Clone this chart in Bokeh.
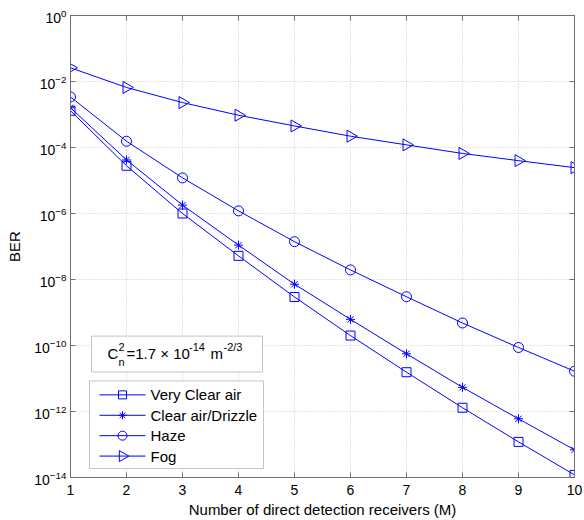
import numpy as np
from bokeh.plotting import figure
from bokeh.models import (FixedTicker, LogAxis, LinearAxis, Label, BoxAnnotation)
from bokeh.embed import file_html
from bokeh.resources import INLINE

# ---------------- data ----------------
M = [1, 2, 3, 4, 5, 6, 7, 8, 9, 10]
very_clear = [1.3e-3, 2.8e-5, 1.0e-6, 5.2e-8, 2.95e-9, 2.0e-10, 1.55e-11, 1.3e-12, 1.2e-13, 1.2e-14]
clear_drizzle = [1.6e-3, 4.2e-5, 1.8e-6, 1.1e-7, 7.2e-9, 6.2e-10, 5.6e-11, 5.4e-12, 6.0e-13, 6.9e-14]
haze = [3.4e-3, 1.55e-4, 1.2e-5, 1.2e-6, 1.4e-7, 1.95e-8, 3.0e-9, 4.8e-10, 8.7e-11, 1.66e-11]
fog = [2.6e-2, 6.6e-3, 2.3e-3, 9.5e-4, 4.5e-4, 2.2e-4, 1.2e-4, 6.6e-5, 4.0e-5, 2.45e-5]
series_names = ["Very Clear air", "Clear air/Drizzle", "Haze", "Fog"]
y_tick_exps = [0, -2, -4, -6, -8, -10, -12, -14]
x_ticks = M
x_label = "Number of direct detection receivers (M)"
y_label = "BER"

FONT = "Liberation Sans"
BLUE = "#0000ff"
AX = "#6f6f6f"

W, H = 584, 520
L, R, T, B = 70, 10, 15, 41
FW, FH = W - L - R, H - T - B

p = figure(width=W, height=H, x_range=(1, 10), y_range=(1e-14, 1),
           y_axis_type="log", output_backend="svg", toolbar_location=None,
           min_border_left=L, min_border_right=R, min_border_top=T, min_border_bottom=B)
p.background_fill_color = "white"
p.border_fill_color = "white"
p.outline_line_color = AX

y_tick_vals = [10.0 ** e for e in y_tick_exps]
yt = FixedTicker(ticks=y_tick_vals)
xt = FixedTicker(ticks=x_ticks)
blank_y = {v: "" for v in y_tick_vals}
blank_x = {v: "" for v in x_ticks}


def style_axis(ax):
    ax.axis_line_color = AX
    ax.major_tick_line_color = AX
    ax.major_tick_in = 5
    ax.major_tick_out = 0
    ax.minor_tick_line_color = None
    ax.major_label_text_font = FONT
    ax.major_label_text_color = "black"
    ax.axis_label_text_font = FONT
    ax.axis_label_text_font_style = "normal"
    ax.axis_label_text_font_size = "15px"
    ax.axis_label_text_color = "black"


# bottom axis
xa = p.xaxis[0]
xa.ticker = xt
style_axis(xa)
xa.major_label_standoff = 7
xa.major_label_text_font_size = "14px"
xa.axis_label = x_label
xa.axis_label_standoff = 3

# left axis (log formatter draws 10 with a raised exponent)
ya = p.yaxis[0]
ya.ticker = yt
style_axis(ya)
ya.major_label_standoff = 4
ya.major_label_text_font_size = "14px"
ya.axis_label = y_label
ya.axis_label_standoff = 8


def quiet(ax, blank):
    style_axis(ax)
    ax.major_label_overrides = blank
    ax.major_label_text_font_size = "2px"
    ax.major_label_text_color = None
    ax.major_label_standoff = 0


ra = LogAxis(ticker=yt)
quiet(ra, blank_y)
p.add_layout(ra, "right")
ta = LinearAxis(ticker=xt)
quiet(ta, blank_x)
p.add_layout(ta, "above")

p.xgrid.ticker = xt
p.ygrid.ticker = yt
for g in (p.xgrid[0], p.ygrid[0]):
    g.grid_line_color = "#c8c8c8"
    g.grid_line_dash = "1 2"
    g.grid_line_width = 1


def px2x(px):
    return 1 + (px - L) / FW * 9


def py2y(py):
    return 10 ** (-(py - T) / FH * 14)


# ---------------- series ----------------
specs = [
    (very_clear, "square", 9, 0.0),
    (clear_drizzle, "asterisk", 9, 0.0),
    (haze, "circle", 10, 0.0),
    (fog, "triangle", 12, -np.pi / 2),
]
for vals, mk, sz, ang in specs:
    p.line(M, vals, line_color=BLUE, line_width=1)
    p.scatter(M, vals, marker=mk, size=sz, angle=ang, line_color=BLUE,
              fill_color=None, line_width=1)


# ---------------- text helper (inside the frame) ----------------
def lab(px, py, text, size, align="left", baseline="middle", style="normal"):
    p.add_layout(Label(x=px2x(px), y=py2y(py), text=text,
                       text_font=FONT, text_font_size=f"{size}px", text_align=align,
                       text_baseline=baseline, text_font_style=style, text_color="black"))


# annotation box
p.add_layout(BoxAnnotation(left=px2x(91), right=px2x(262), top=py2y(337), bottom=py2y(373),
                           fill_color="white", fill_alpha=1.0, line_color="#404040",
                           line_width=1, level="underlay"))
lab(107, 354, "C", 15)
lab(118, 348, "2", 11)
lab(118, 363, "n", 11)
lab(126, 354, "=1.7 \u00d7 10", 15)
lab(188.5, 348, "-14", 11)
lab(210, 354, "m", 15)
lab(223, 348, "-2/3", 11)

# legend (drawn by hand so the Fog triangle points right, as in the reference)
p.add_layout(BoxAnnotation(left=px2x(89), right=px2x(263), top=py2y(382), bottom=py2y(470),
                           fill_color="white", fill_alpha=1.0, line_color="#404040",
                           line_width=1, level="underlay"))
row_py = [396, 416.5, 437, 457.5]
for (vals, mk, sz, ang), name, ry in zip(specs, series_names, row_py):
    p.line([px2x(99), px2x(145)], [py2y(ry), py2y(ry)], line_color=BLUE, line_width=1)
    p.scatter([px2x(122)], [py2y(ry)], marker=mk, size=sz - 1, angle=ang, line_color=BLUE,
              fill_color=None, line_width=1)
    lab(150, ry, name, 15)

open("out.html", "w").write(file_html(p, INLINE))
